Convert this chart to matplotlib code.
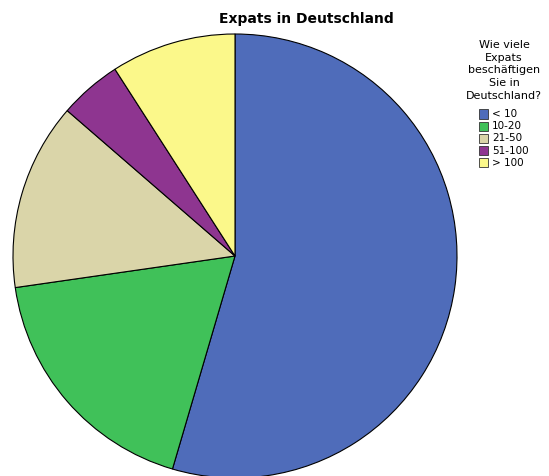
import matplotlib.pyplot as plt
from matplotlib.patches import Rectangle

# Anzahl Antworten je Kategorie
labels = ['< 10', '10-20', '21-50', '51-100', '> 100']
counts = [12, 4, 3, 1, 2]
colors = ['#4F6CBA', '#40C159', '#DAD5A9', '#8E3590', '#FBF88A']
legend_title = ['Wie viele', 'Expats', 'beschäftigen', 'Sie in', 'Deutschland?']

W, H = 549, 476
fig = plt.figure(figsize=(W / 100, H / 100), dpi=100)

# pie axes: centre (235, 256) px, radius 222 px
cx, cy, r = 235, 256, 222
ax = fig.add_axes([(cx - r) / W, (H - cy - r) / H, 2 * r / W, 2 * r / H])
wedges, _ = ax.pie(counts, colors=colors, startangle=90, counterclock=False,
                   radius=1, wedgeprops=dict(edgecolor='black', linewidth=0.8))
for w in wedges:
    w.set_clip_on(False)
ax.set_xlim(-1, 1)
ax.set_ylim(-1, 1)
ax.set_aspect('equal')
ax.axis('off')

fig.text(306 / W, 1 - 19 / H, 'Expats in Deutschland', ha='center', va='center',
         fontsize=10, fontweight='bold')

# legend drawn by hand (pixel positions from the top-left)
def fx(x):
    return x / W

def fy(y):
    return 1 - y / H

for i, line in enumerate(legend_title):
    fig.text(fx(504), fy(45 + i * 12.7), line, ha='center', va='center', fontsize=8)

for i, (lab, col) in enumerate(zip(labels, colors)):
    y = 114 + i * 12.2
    fig.patches.append(Rectangle((fx(479), fy(y + 4.5)), 9 / W, 9 / H,
                                 transform=fig.transFigure, facecolor=col,
                                 edgecolor='#333333', linewidth=0.6))
    fig.text(fx(492), fy(y), lab, ha='left', va='center', fontsize=7.5)

fig.savefig('out.png', dpi=100)
